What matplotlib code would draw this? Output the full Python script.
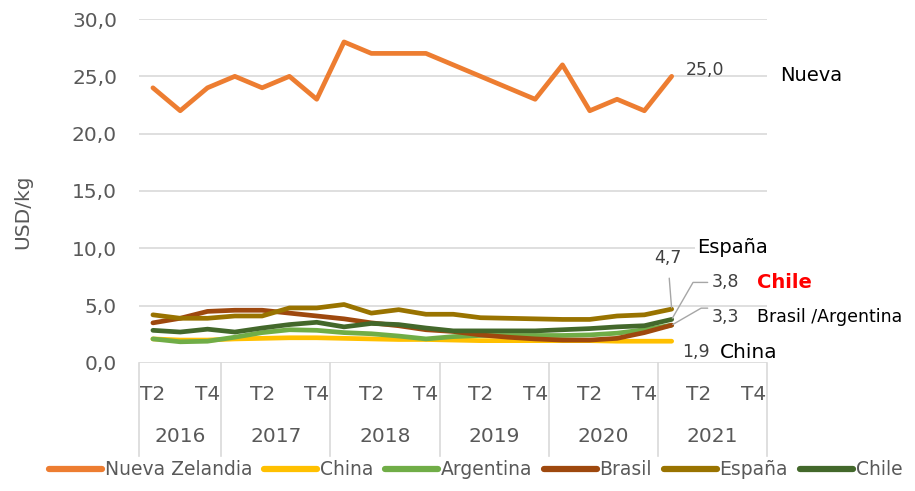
import numpy as np
import matplotlib.pyplot as plt
from matplotlib.transforms import blended_transform_factory

# quarters 2016 T2 .. 2021 T4 (23 categories), data up to 2021 T1
years = ['2016', '2017', '2018', '2019', '2020', '2021']
quarters = ['T2', 'T3', 'T4'] + ['T1', 'T2', 'T3', 'T4'] * 5
quarters_per_year = [3, 4, 4, 4, 4, 4]

nueva_zelandia = [24, 22, 24, 25, 24, 25, 23, 28, 27, 27, 27, 26, 25, 24, 23, 26, 22, 23, 22, 25.0]
china = [2.1, 2.0, 2.0, 2.1, 2.15, 2.2, 2.2, 2.15, 2.1, 2.05, 2.05, 2.0, 1.95, 1.95, 1.95, 1.95, 1.95, 1.9, 1.9, 1.9]
argentina = [2.1, 1.85, 1.9, 2.25, 2.65, 2.9, 2.85, 2.65, 2.55, 2.35, 2.1, 2.3, 2.4, 2.4, 2.4, 2.4, 2.45, 2.6, 2.9, 3.3]
brasil = [3.5, 3.9, 4.5, 4.6, 4.6, 4.35, 4.1, 3.85, 3.5, 3.25, 2.9, 2.75, 2.45, 2.25, 2.1, 2.0, 2.0, 2.15, 2.65, 3.3]
espana = [4.2, 3.9, 3.9, 4.1, 4.1, 4.8, 4.8, 5.1, 4.35, 4.65, 4.25, 4.25, 3.95, 3.9, 3.85, 3.8, 3.8, 4.1, 4.2, 4.7]
chile = [2.85, 2.7, 2.95, 2.7, 3.05, 3.35, 3.55, 3.15, 3.45, 3.35, 3.05, 2.8, 2.8, 2.8, 2.8, 2.9, 3.0, 3.15, 3.25, 3.8]

series = [
    ('Nueva Zelandia', nueva_zelandia, '#ED7D31'),
    ('China', china, '#FFC000'),
    ('Argentina', argentina, '#70AD47'),
    ('Brasil', brasil, '#9E480E'),
    ('España', espana, '#997300'),
    ('Chile', chile, '#43682B'),
]

plt.rcParams['font.family'] = ['DejaVu Sans']
tick_color = '#595959'
label_color = '#404040'

fig = plt.figure(figsize=(9.15, 4.91), dpi=100)
ax = fig.add_axes([0.1522, 0.2607, 0.6863, 0.7006])

lines = []
for name, vals, col in series:
    ln, = ax.plot(np.arange(len(vals)), vals, color=col, lw=3.4,
                  solid_joinstyle='round', solid_capstyle='round', label=name)
    lines.append(ln)

n = len(quarters)
ax.set_xlim(-0.5, n - 0.5)
ax.set_ylim(0, 30)
ax.set_yticks(np.arange(0, 31, 5))
ax.set_yticklabels([f'{v:.1f}'.replace('.', ',') for v in np.arange(0, 31, 5)])
ax.grid(axis='y', color='#D9D9D9', lw=1.2)
ax.set_axisbelow(True)
for s in ax.spines.values():
    s.set_visible(False)
ax.tick_params(axis='y', length=0, labelsize=14.5, colors=tick_color, pad=16)
ax.set_ylabel('USD/kg', fontsize=14.5, color=tick_color)
ax.yaxis.set_label_coords(-0.171, 0.44)

# quarter labels (every second one, like Excel)
ax.set_xticks(np.arange(0, n, 2))
ax.set_xticklabels([quarters[i] for i in range(0, n, 2)])
ax.tick_params(axis='x', length=0, labelsize=14.5, colors=tick_color, pad=16)

# year labels and separators
trans = blended_transform_factory(ax.transData, ax.transAxes)
start = -0.5
bounds = [start]
for yr, cnt in zip(years, quarters_per_year):
    ax.text(start + cnt / 2, -0.215, yr, transform=trans, ha='center', va='center',
            fontsize=14.5, color=tick_color)
    start += cnt
    bounds.append(start)
for b in bounds:
    ax.plot([b, b], [0, -0.27], transform=trans, color='#D9D9D9', lw=1.2, clip_on=False)

# end labels
last = len(nueva_zelandia) - 1
gray = '#A6A6A6'
ax.annotate('25,0', (last, nueva_zelandia[-1]), xytext=(14, 6), textcoords='offset pixels',
            ha='left', va='center', fontsize=12.5, color=label_color)
ax.annotate('Nueva', (last, nueva_zelandia[-1]), xytext=(108, 1), textcoords='offset pixels',
            ha='left', va='center', fontsize=14, color='black')
ax.annotate('4,7', (last, espana[-1]), xytext=(-4, 51), textcoords='offset pixels',
            ha='center', va='center', fontsize=12.5, color=label_color,
            arrowprops=dict(arrowstyle='-', color=gray, lw=1, shrinkA=6, shrinkB=1))
ax.annotate('España', (last, espana[-1]), xytext=(25, 62), textcoords='offset pixels',
            ha='left', va='center', fontsize=14, color='black',
            bbox=dict(fc='white', ec='none', pad=1))
ax.annotate('3,8', (last, chile[-1]), xytext=(40, 37), textcoords='offset pixels',
            ha='left', va='center', fontsize=12.5, color=label_color)
ax.annotate('', (last, chile[-1]), xytext=(36, 37), textcoords='offset pixels',
            arrowprops=dict(arrowstyle='-', color=gray, lw=1, shrinkA=0, shrinkB=1,
                            connectionstyle='angle,angleA=0,angleB=60,rad=0'))
ax.annotate('Chile', (last, chile[-1]), xytext=(85, 37), textcoords='offset pixels',
            ha='left', va='center', fontsize=14, color='#FF0000', fontweight='bold')
ax.annotate('3,3', (last, brasil[-1]), xytext=(40, 8), textcoords='offset pixels',
            ha='left', va='center', fontsize=12.5, color=label_color)
ax.annotate('', (last, brasil[-1]), xytext=(36, 17), textcoords='offset pixels',
            arrowprops=dict(arrowstyle='-', color=gray, lw=1, shrinkA=0, shrinkB=1,
                            connectionstyle='angle,angleA=0,angleB=30,rad=0'))
ax.annotate('Brasil /Argentina', (last, brasil[-1]), xytext=(85, 8), textcoords='offset pixels',
            ha='left', va='center', fontsize=12.5, color='black')
ax.annotate('1,9', (last, china[-1]), xytext=(10, -11), textcoords='offset pixels',
            ha='left', va='center', fontsize=12.5, color=label_color)
ax.annotate('China', (last, china[-1]), xytext=(48, -11), textcoords='offset pixels',
            ha='left', va='center', fontsize=14.5, color='black')

leg = fig.legend(handles=lines, loc='center', bbox_to_anchor=(0.52, 0.043), ncol=6,
                 frameon=False, handlelength=2.8, handletextpad=0.15, columnspacing=0.65,
                 fontsize=13.5, labelcolor=tick_color)
for h in leg.legend_handles:
    h.set_linewidth(4.5)

fig.savefig('out.png', dpi=100)
